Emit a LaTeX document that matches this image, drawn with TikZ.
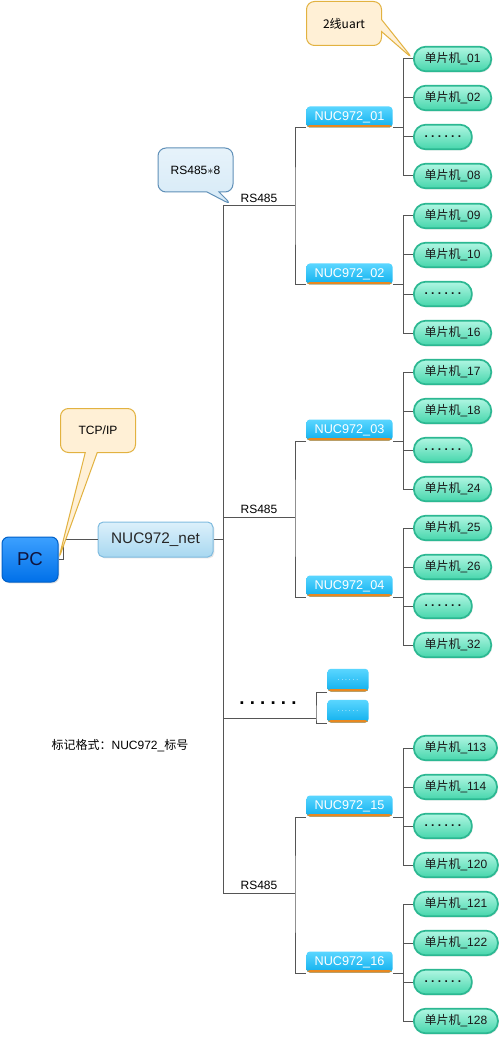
\documentclass[tikz,border=0pt]{standalone}
\usepackage{fontspec}
\setmainfont{Liberation Sans}
\newfontfamily\cjk{Noto Sans CJK SC}
\usetikzlibrary{shapes.callouts,shadows}
\definecolor{wirecol}{RGB}{85,85,85}
\definecolor{pctop}{RGB}{60,160,255}
\definecolor{pcbot}{RGB}{0,112,232}
\definecolor{pcline}{RGB}{0,96,200}
\definecolor{pctext}{RGB}{16,20,60}
\definecolor{nettop}{RGB}{220,240,251}
\definecolor{netbot}{RGB}{168,216,240}
\definecolor{netline}{RGB}{128,188,224}
\definecolor{nuctop}{RGB}{90,214,255}
\definecolor{nucbot}{RGB}{16,176,238}
\definecolor{nucbar}{RGB}{232,136,32}
\definecolor{leaftop}{RGB}{176,246,226}
\definecolor{leafbot}{RGB}{70,214,172}
\definecolor{leafline}{RGB}{44,184,146}
\definecolor{bluefill}{RGB}{214,234,247}
\definecolor{blueline}{RGB}{96,144,184}
\definecolor{orangefill}{RGB}{255,240,214}
\definecolor{orangeline}{RGB}{226,178,64}
\tikzset{every picture/.style={line width=0.75pt}}

\begin{document}
\frenchspacing
\begin{tikzpicture}[x=0.75pt,y=0.75pt,yscale=-1,xscale=1,
	wire/.style={draw=wirecol},
	pcbox/.style={rounded corners=5pt, minimum width=42pt, minimum height=33.75pt, top color=pctop, bottom color=pcbot, draw=pcline, text=pctext, font=\fontsize{14}{16}\selectfont, drop shadow={opacity=0.25, shadow xshift=1pt, shadow yshift=-1pt}},
	netbox/.style={rounded corners=4pt, minimum width=86.25pt, minimum height=26.25pt, top color=nettop, bottom color=netbot, draw=netline, text=black!85, font=\fontsize{11.5}{13}\selectfont, drop shadow={opacity=0.2, shadow xshift=1pt, shadow yshift=-1pt}},
	nucbox/.style={inner sep=0pt, rounded corners=2.5pt, minimum width=64.5pt, minimum height=15.75pt, top color=nuctop, bottom color=nucbot, text=white, font=\fontsize{9.5}{10}\selectfont, path picture={\fill[nucbar] ([yshift=1.8pt]path picture bounding box.south west) rectangle (path picture bounding box.south east);}},
	smallbox/.style={nucbox, minimum width=30.75pt, minimum height=17pt, font=\fontsize{5}{6}\selectfont},
	leaf/.style={anchor=west, rounded corners=9pt, minimum height=18.5pt, inner xsep=8pt, inner ysep=0pt, top color=leaftop, bottom color=leafbot, draw=leafline, line width=1.3pt, text=black!90, font=\fontsize{9}{10}\selectfont, drop shadow={opacity=0.2, shadow xshift=0.8pt, shadow yshift=-0.8pt}},
	note/.style={rectangle callout, rounded corners=6pt, minimum width=56.25pt, minimum height=33pt, callout pointer width=9pt, font=\fontsize{9}{10}\selectfont},
	bluenote/.style={note, top color=bluefill!60, bottom color=bluefill, draw=blueline},
	orangenote/.style={note, fill=orangefill, draw=orangeline},
	label/.style={font=\fontsize{9}{10}\selectfont, inner sep=2pt}]
	%set diagram to the size of the reference
	\useasboundingbox[fill=white] (0,0) rectangle (502,1037);

	%Shape: PC and net
	\node[pcbox] (pc) at (30,559.5) {PC};
	\node[netbox] (net) at (155.5,539.5) {NUC972\_net};

	%Straight Lines: bus
	\coordinate (bustop) at (223,206);
	\coordinate (busbot) at (223,893);
	\coordinate (s1) at (295,206);
	\coordinate (s2) at (295,517);
	\coordinate (s3) at (295,893);
	\coordinate (s0) at (316,718);
	\draw[wire] (pc.east) -- ++(5,0) |- (net.west);
	\draw[wire] (net.east) -- (net.east -| bustop);
	\draw[wire] (bustop) -- (busbot);

	%Shape: NUC972 boxes and leaves
	\foreach \nm/\yb/\la/\lb/\lc in {01/128/01/02/08, 02/285/09/10/16, 03/441/17/18/24, 04/597/25/26/32, 15/817/113/114/120, 16/973/121/122/128}{
		\node[nucbox, anchor=south west] (nuc\nm) at (306,\yb) {NUC972\_\nm};
		\node[leaf] (l\nm-a) at (413,\yb-69) {{\cjk 单片机}\_\la};
		\node[leaf] (l\nm-b) at (413,\yb-30) {{\cjk 单片机}\_\lb};
		\node[leaf] (l\nm-c) at (413,\yb+9) {\textbf{. . . . . .}};
		\node[leaf] (l\nm-d) at (413,\yb+48) {{\cjk 单片机}\_\lc};
		\coordinate (j\nm) at ([xshift=7.5pt]nuc\nm.south east);
		\draw[wire] (nuc\nm.south east) -- (j\nm);
		\foreach \k in {a,b,c,d}
			\draw[wire] (j\nm) |- (l\nm-\k.west);
	}

	%Straight Lines: RS485 branches
	\foreach \s/\p/\q in {s1/01/02, s2/03/04, s3/15/16}{
		\draw[wire] (\s -| bustop) -- (\s) node[midway, above, label] {RS485};
		\draw[wire] (nuc\p.south west) -| (\s) |- (nuc\q.south west);
	}

	%Shape: more boxes
	\node[smallbox, anchor=south west] (moreA) at (327,692) {. . . . . .};
	\node[smallbox, anchor=south west] (moreB) at (327,723) {. . . . . .};
	\draw[wire] (s0 -| bustop) -- (s0);
	\draw[wire] (moreA.south west) -| (s0) |- (moreB.south west);

	% Text Node
	\node[font=\bfseries\fontsize{14}{15}\selectfont] (moredots) at (268,703) {. . . . . .};
	% Text Node
	\node[label] (format) at (120,746) {{\cjk 标记格式：}NUC972\_{\cjk 标号}};

	%Shape: callouts
	\coordinate (rstip) at (232,205);
	\node[bluenote, callout absolute pointer={(rstip)}] (rsnote) at (195.5,170) {RS485$\ast$8};
	\node[orangenote, callout absolute pointer={(pc.east)}] (tcpnote) at (98,430.5) {TCP/IP};
	\node[orangenote, callout absolute pointer={(l01-a.west)}] (uartnote) at (344,23.5) {\cjk 2线uart};
\end{tikzpicture}
\end{document}
